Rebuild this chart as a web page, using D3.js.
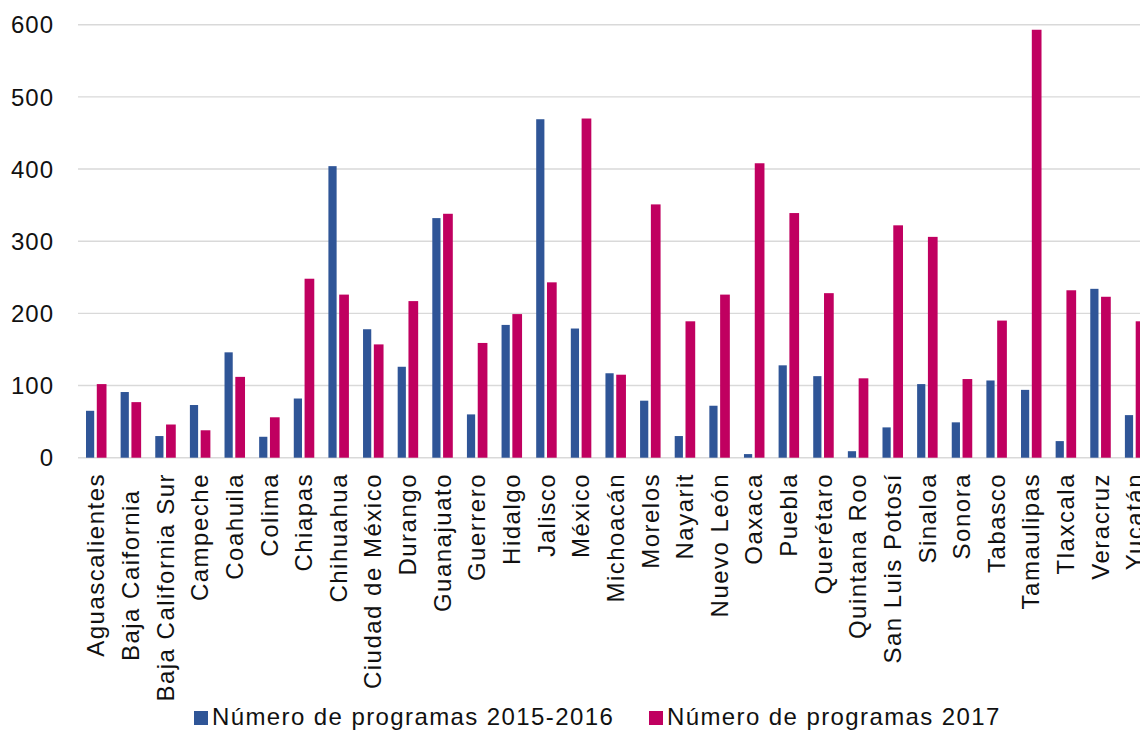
<!DOCTYPE html>
<html>
<head>
<meta charset="utf-8">
<script src="https://cdn.jsdelivr.net/npm/d3@7"></script>
<style>
  html, body { margin: 0; padding: 0; background: #fff; }
  svg text { font-family: "Liberation Sans", Arial, sans-serif; fill: #111; }
</style>
</head>
<body>
<svg id="chart" width="1140" height="730"></svg>
<script>
const categories = ["Aguascalientes", "Baja Caifornia  ", "Baja California Sur", "Campeche", "Coahuila", "Colima",
  "Chiapas", "Chihuahua", "Ciudad de México", "Durango", "Guanajuato", "Guerrero", "Hidalgo", "Jalisco",
  "México", "Michoacán", "Morelos", "Nayarit", "Nuevo León", "Oaxaca", "Puebla", "Querétaro",
  "Quintana Roo", "San Luis Potosí", "Sinaloa", "Sonora", "Tabasco", "Tamaulipas", "Tlaxcala",
  "Veracruz", "Yucatán"];
const programas2015_2016 = [65, 91, 30, 73, 146, 29, 82, 404, 178, 126, 332, 60, 184, 469,
  179, 117, 79, 30, 72, 5, 128, 113, 9, 42, 102, 49, 107, 94, 23, 234, 59];
const programas2017 = [102, 77, 46, 38, 112, 56, 248, 226, 157, 217, 338, 159, 199, 243,
  470, 115, 351, 189, 226, 408, 339, 228, 110, 322, 306, 109, 190, 593, 232, 223, 189];
const seriesNames = ["Número de programas 2015-2016", "Número de programas 2017"];
const yTicks = [0, 100, 200, 300, 400, 500, 600];
const colors = ["#2f5597", "#c00060"];

const svg = d3.select("#chart");
const left = 78, step = 34.63, y0 = 457.7, yTop = 24.7;

const x = d3.scaleBand().domain(categories).range([left, left + step * categories.length]).padding(0);
const y = d3.scaleLinear().domain([0, 600]).range([y0, yTop]);
const x1 = d3.scaleBand().domain([0, 1]).range([8, 28.5]).paddingInner(0.1);

// gridlines
svg.append("g").selectAll("line").data(yTicks).join("line")
  .attr("x1", left).attr("x2", 1140)
  .attr("y1", d => y(d)).attr("y2", d => y(d))
  .attr("stroke", "#d9d9d9").attr("stroke-width", 1.4);

// y labels
svg.append("g").selectAll("text").data(yTicks).join("text")
  .attr("x", 54).attr("y", d => y(d)).attr("dy", "0.36em")
  .attr("text-anchor", "end").style("font-size", "24px").style("letter-spacing", "1px")
  .text(d => d);

// bars
const series = [programas2015_2016, programas2017];
series.forEach((vals, si) => {
  svg.append("g").selectAll("rect").data(vals).join("rect")
    .attr("x", (d, i) => x(categories[i]) + x1(si))
    .attr("width", si === 0 ? x1.bandwidth() - 1.5 : x1.bandwidth())
    .attr("y", d => y(d))
    .attr("height", d => y0 - y(d))
    .attr("fill", colors[si]);
});

// x labels
svg.append("g").selectAll("text").data(categories).join("text")
  .attr("transform", d => `translate(${x(d) + x.bandwidth() / 2},473) rotate(-90)`)
  .attr("dy", "0.38em")
  .attr("text-anchor", "end")
  .style("font-size", "24px").style("letter-spacing", "1.5px").style("white-space", "pre")
  .text(d => d);

// legend
const legendX = [194, 649];
const lg = svg.append("g").selectAll("g").data(seriesNames).join("g")
  .attr("transform", (d, i) => `translate(${legendX[i]},711)`);
lg.append("rect").attr("width", 14).attr("height", 14).attr("fill", (d, i) => colors[i]);
lg.append("text").attr("x", 18).attr("y", 14)
  .style("font-size", "24px").style("letter-spacing", "1.4px")
  .text(d => d);
</script>
</body>
</html>
